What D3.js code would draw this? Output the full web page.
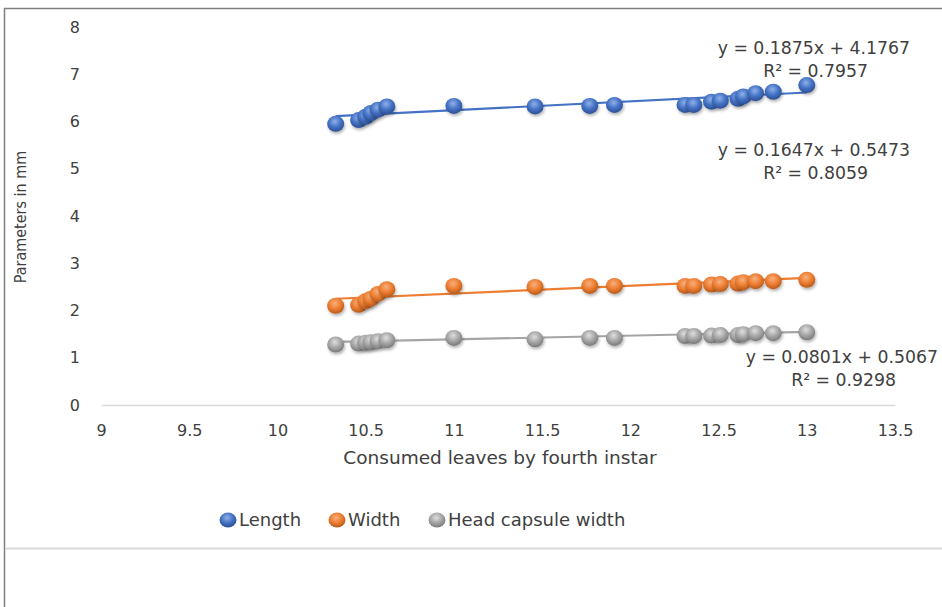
<!DOCTYPE html>
<html>
<head>
<meta charset="utf-8">
<script src="https://cdn.jsdelivr.net/npm/d3@7"></script>
<style>
  body { margin: 0; background: #fff; }
  text { font-family: "DejaVu Sans", sans-serif; fill: #404040; }
</style>
</head>
<body>
<div id="chart"></div>
<script>
// consumed leaves (x) shared by all three series
var consumed = [10.33, 10.46, 10.5, 10.53, 10.57, 10.62, 11.0, 11.46, 11.77, 11.91,
                12.31, 12.36, 12.46, 12.51, 12.61, 12.64, 12.71, 12.81, 13.0];
var lengthVals = [5.95, 6.03, 6.1, 6.18, 6.25, 6.32, 6.33, 6.32, 6.33, 6.35,
                  6.35, 6.35, 6.42, 6.44, 6.48, 6.53, 6.6, 6.63, 6.77];
var widthVals = [2.1, 2.12, 2.2, 2.25, 2.35, 2.45, 2.52, 2.5, 2.52, 2.52,
                 2.52, 2.52, 2.55, 2.56, 2.57, 2.6, 2.62, 2.62, 2.65];
var headVals = [1.28, 1.3, 1.32, 1.33, 1.35, 1.37, 1.42, 1.39, 1.42, 1.42,
                1.46, 1.46, 1.47, 1.48, 1.48, 1.5, 1.52, 1.52, 1.54];

var seriesNames = ["Length", "Width", "Head capsule width"];
var slopes = [0.1875, 0.1647, 0.0801];
var intercepts = [4.1767, 0.5473, 0.5067];
var r2Vals = ["0.7957", "0.8059", "0.9298"];

var xTicks = [9, 9.5, 10, 10.5, 11, 11.5, 12, 12.5, 13, 13.5];
var yTicks = [0, 1, 2, 3, 4, 5, 6, 7, 8];

var width = 942, height = 607;
var colors = ["#4472C4", "#ED7D31", "#A5A5A5"];
var light = ["#8fb0ea", "#f7b07e", "#dedede"];
var dark = ["#2c4f93", "#b65a1b", "#7a7a7a"];

var svg = d3.select("#chart").append("svg")
    .attr("width", width)
    .attr("height", height);

// frame bits from the cropped original
svg.append("line").attr("x1", 4).attr("x2", width).attr("y1", 8.5).attr("y2", 8.5)
    .attr("stroke", "#7f7f7f").attr("stroke-width", 1.5);
svg.append("line").attr("x1", 4.5).attr("x2", 4.5).attr("y1", 8).attr("y2", height)
    .attr("stroke", "#7f7f7f").attr("stroke-width", 1.5);
svg.append("line").attr("x1", 5).attr("x2", width).attr("y1", 548.5).attr("y2", 548.5)
    .attr("stroke", "#d9d9d9").attr("stroke-width", 2);

var defs = svg.append("defs");
colors.forEach(function (c, i) {
    var g = defs.append("radialGradient").attr("id", "ball" + i)
        .attr("cx", "45%").attr("cy", "35%").attr("r", "65%");
    g.append("stop").attr("offset", "0%").attr("stop-color", light[i]);
    g.append("stop").attr("offset", "55%").attr("stop-color", c);
    g.append("stop").attr("offset", "100%").attr("stop-color", dark[i]);
});
var blur = defs.append("filter").attr("id", "shadow")
    .attr("x", "-50%").attr("y", "-50%").attr("width", "200%").attr("height", "200%");
blur.append("feDropShadow").attr("dx", 1).attr("dy", 2).attr("stdDeviation", 1.5)
    .attr("flood-color", "#000").attr("flood-opacity", 0.3);

var x = d3.scaleLinear().domain([9, 13.5]).range([101, 895]);
var y = d3.scaleLinear().domain([0, 8]).range([405, 27]);

// axes
svg.append("g")
    .attr("transform", "translate(0,405)")
    .call(d3.axisBottom(x).tickValues(xTicks).tickSize(0).tickPadding(20)
        .tickFormat(d3.format("")))
    .call(g => g.select(".domain").attr("stroke", "#d9d9d9").attr("stroke-width", 1.5))
    .call(g => g.selectAll("text").style("font-size", "16px").attr("fill", "#404040")
        .style("font-family", "'DejaVu Sans', sans-serif"));

svg.append("g")
    .attr("transform", "translate(101,0)")
    .call(d3.axisLeft(y).tickValues(yTicks).tickSize(0).tickPadding(21))
    .call(g => g.select(".domain").remove())
    .call(g => g.selectAll("text").style("font-size", "16px").attr("fill", "#404040")
        .style("font-family", "'DejaVu Sans', sans-serif"));

svg.append("text")
    .attr("x", 500).attr("y", 464)
    .attr("text-anchor", "middle")
    .style("font-size", "18.5px")
    .text("Consumed leaves by fourth instar");

svg.append("text")
    .attr("transform", "translate(26,217) rotate(-90)")
    .attr("text-anchor", "middle")
    .style("font-family", "'DejaVu Sans Condensed', 'DejaVu Sans', sans-serif")
    .style("font-stretch", "condensed")
    .style("font-size", "16px")
    .text("Parameters in mm");

var allVals = [lengthVals, widthVals, headVals];
var xMin = d3.min(consumed), xMax = d3.max(consumed);

// trendlines
allVals.forEach(function (vals, i) {
    svg.append("line")
        .attr("x1", x(xMin)).attr("y1", y(slopes[i] * xMin + intercepts[i]))
        .attr("x2", x(xMax)).attr("y2", y(slopes[i] * xMax + intercepts[i]))
        .attr("stroke", colors[i]).attr("stroke-width", 2.2);
});

// points
allVals.forEach(function (vals, i) {
    svg.append("g").selectAll("ellipse")
        .data(consumed.map((c, j) => [c, vals[j]]))
        .enter().append("ellipse")
        .attr("cx", d => x(d[0]))
        .attr("cy", d => y(d[1]))
        .attr("rx", 8.5).attr("ry", 8)
        .attr("fill", "url(#ball" + i + ")")
        .attr("filter", "url(#shadow)");
});

// equations
var eqPos = [[910, 48], [910, 150], [938, 357]];
slopes.forEach(function (s, i) {
    svg.append("text")
        .attr("x", eqPos[i][0]).attr("y", eqPos[i][1] + 6)
        .attr("text-anchor", "end")
        .style("font-size", "17.3px")
        .text("y = " + s + "x + " + intercepts[i]);
    svg.append("text")
        .attr("x", eqPos[i][0] - 42).attr("y", eqPos[i][1] + 29)
        .attr("text-anchor", "end")
        .style("font-size", "17.3px")
        .text("R² = " + r2Vals[i]);
});

// legend
var legX = [228, 337, 437];
seriesNames.forEach(function (n, i) {
    svg.append("ellipse")
        .attr("cx", legX[i]).attr("cy", 520).attr("rx", 8.5).attr("ry", 7.5)
        .attr("fill", "url(#ball" + i + ")");
    svg.append("text")
        .attr("x", legX[i] + 11).attr("y", 526)
        .style("font-size", "18px")
        .text(n);
});
</script>
</body>
</html>
